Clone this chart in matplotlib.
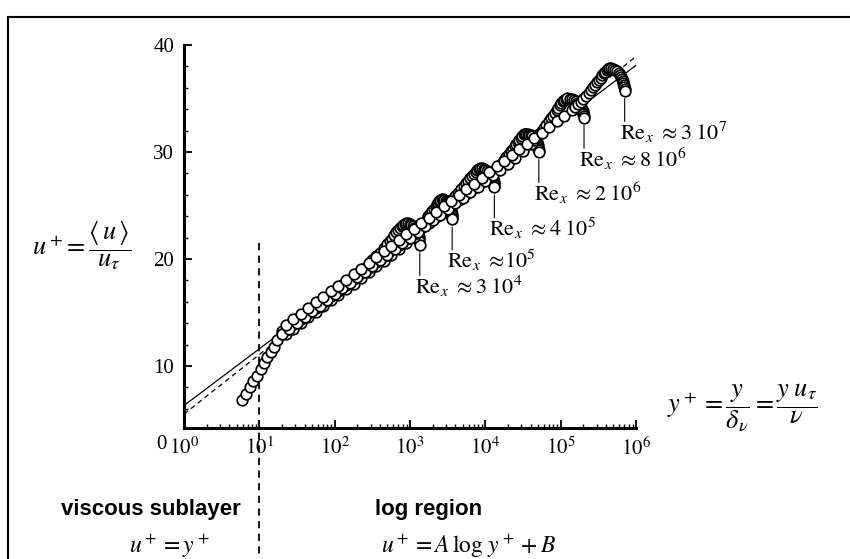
import numpy as np
import matplotlib.pyplot as plt
from matplotlib.patches import Rectangle
from matplotlib.ticker import LogLocator, MultipleLocator, NullFormatter
from matplotlib.transforms import offset_copy

plt.rcParams['font.family'] = ['Liberation Serif', 'DejaVu Serif']
plt.rcParams['mathtext.fontset'] = 'stix'

# near-wall points (shared by all profiles)
nearwall_yp = [5.9, 6.7, 7.6, 8.3, 9.4, 10.6, 11.7, 12.8, 14.5, 15.8, 17.4]
nearwall_up = [6.8, 7.4, 8.0, 8.6, 9.1, 9.7, 10.3, 10.8, 11.3, 11.8, 12.4]

# profiles, Re_x ~ 3e4 ... 3e7
re3e4_yp = [20, 25, 32, 40, 50, 63, 79, 100, 126, 158, 200, 251, 282, 316, 355, 398,
            447, 501, 537, 575, 617, 661, 700, 741, 776, 813, 851, 891, 933, 989,
            1042, 1096, 1146, 1191, 1225, 1253, 1279, 1300, 1318, 1334, 1349]
re3e4_up = [13.0, 13.6, 14.2, 14.8, 15.3, 15.9, 16.4, 16.9, 17.5, 18.0, 18.6, 19.2,
            19.45, 19.9, 20.25, 20.6, 21.0, 21.4, 21.65, 21.9, 22.2, 22.5, 22.72,
            22.9, 23.06, 23.2, 23.3, 23.35, 23.33, 23.25, 23.16, 23.04, 22.9, 22.74,
            22.57, 22.39, 22.22, 22.04, 21.86, 21.67, 21.3]

re1e5_yp = [22.4, 28.2, 35.5, 44.7, 56.2, 70.8, 89.1, 112, 141, 178, 224, 282, 355,
            447, 562, 708, 891, 1120, 1260, 1410, 1530, 1660, 1760, 1860, 1970, 2090,
            2190, 2290, 2370, 2455, 2540, 2630, 2740, 2850, 2970, 3090, 3200, 3300,
            3370, 3430, 3475, 3520, 3565, 3600, 3615, 3630]
re1e5_up = [12.95, 13.5, 14.0, 14.55, 15.05, 15.6, 16.15, 16.65, 17.2, 17.7, 18.25,
            18.8, 19.3, 19.85, 20.35, 20.95, 21.45, 22.05, 22.55, 23.0, 23.38, 23.7,
            23.98, 24.2, 24.45, 24.7, 24.9, 25.1, 25.27, 25.4, 25.52, 25.6, 25.57,
            25.5, 25.42, 25.3, 25.18, 25.03, 24.87, 24.71, 24.55, 24.38, 24.21,
            24.04, 23.87, 23.7]

re4e5_yp = [20, 25.1, 31.6, 39.8, 50.1, 63.1, 79.4, 100, 126, 158, 200, 251, 316,
            398, 501, 631, 794, 1000, 1260, 1580, 2000, 2510, 3160, 3550, 3980, 4370,
            4790, 5190, 5620, 5960, 6310, 6680, 7080, 7410, 7760, 8130, 8510, 9020,
            9500, 10000, 10600, 11090, 11560, 11890, 12190, 12450, 12680, 12850,
            13000, 13090, 13180]
re4e5_up = [13.3, 13.8, 14.35, 14.9, 15.4, 15.95, 16.45, 17.0, 17.55, 18.05, 18.6,
            19.1, 19.65, 20.2, 20.7, 21.25, 21.8, 22.3, 22.85, 23.35, 23.9, 24.5,
            25.2, 25.55, 25.9, 26.2, 26.5, 26.8, 27.1, 27.33, 27.55, 27.76, 27.95,
            28.13, 28.3, 28.42, 28.5, 28.48, 28.41, 28.34, 28.23, 28.1, 27.96, 27.81,
            27.65, 27.5, 27.35, 27.19, 27.02, 26.86, 26.7]

re2e6_yp = [22.4, 28.2, 35.5, 44.7, 56.2, 70.8, 89.1, 112, 141, 178, 224, 282, 355,
            447, 562, 708, 891, 1120, 1410, 1780, 2240, 2820, 3550, 4470, 5620, 7080,
            8910, 11200, 12600, 14100, 15300, 16600, 17800, 19050, 20400, 21900,
            23200, 24550, 25700, 26900, 28200, 29500, 30900, 32400, 33500, 34700,
            36500, 38300, 40300, 42200, 44000, 45600, 46800, 47800, 48800, 49500,
            50100, 50700, 51000, 51300]
re2e6_up = [13.35, 13.9, 14.4, 14.95, 15.45, 16.0, 16.55, 17.05, 17.6, 18.1, 18.65,
            19.2, 19.7, 20.25, 20.8, 21.3, 21.85, 22.35, 22.9, 23.4, 23.95, 24.5,
            25.0, 25.55, 26.1, 26.6, 27.15, 27.8, 28.12, 28.45, 28.72, 29.0, 29.25,
            29.5, 29.78, 30.05, 30.3, 30.55, 30.75, 30.95, 31.15, 31.35, 31.5, 31.65,
            31.7, 31.7, 31.68, 31.62, 31.55, 31.45, 31.33, 31.19, 31.05, 30.9, 30.76,
            30.61, 30.46, 30.31, 30.15, 30.0]

re8e6_yp = [20, 25.1, 31.6, 39.8, 50.1, 63.1, 79.4, 100, 126, 158, 200, 251, 316,
            398, 501, 631, 794, 1000, 1260, 1580, 2000, 2510, 3160, 3980, 5010, 6310,
            7940, 10000, 12600, 15800, 20000, 25100, 31600, 39800, 43700, 47900,
            51900, 56200, 60300, 64600, 69200, 74100, 78500, 83200, 88100, 93300,
            97700, 102300, 107200, 112200, 117500, 123000, 131200, 139600, 148600,
            158500, 166700, 175400, 181100, 186200, 190500, 195000, 198200, 200900,
            202800, 204200]
re8e6_up = [13.0, 13.5, 14.05, 14.6, 15.1, 15.65, 16.15, 16.7, 17.25, 17.75, 18.3,
            18.8, 19.35, 19.9, 20.4, 20.95, 21.45, 22.0, 22.55, 23.05, 23.6, 24.1,
            24.65, 25.2, 25.7, 26.25, 26.75, 27.3, 27.85, 28.35, 28.9, 29.45, 30.05,
            30.75, 31.08, 31.4, 31.7, 32.0, 32.28, 32.55, 32.85, 33.15, 33.4, 33.65,
            33.9, 34.15, 34.36, 34.55, 34.72, 34.85, 34.95, 35.0, 34.97, 34.91, 34.83,
            34.73, 34.6, 34.46, 34.3, 34.15, 34.0, 33.85, 33.68, 33.52, 33.36, 33.2]

re3e7_yp = [22.4, 28.2, 35.5, 44.7, 56.2, 70.8, 89.1, 112, 141, 178, 224, 282, 355,
            447, 562, 708, 891, 1120, 1410, 1780, 2240, 2820, 3550, 4470, 5620, 7080,
            8910, 11200, 14100, 17800, 22400, 28200, 35500, 44700, 56200, 70800,
            89100, 112000, 141000, 154900, 169800, 184100, 199500, 216300, 234400,
            251200, 269200, 285100, 302000, 319900, 338800, 354800, 371500, 389000,
            407400, 424600, 441600, 467700, 496600, 527200, 559800, 588800, 615200,
            633900, 650100, 665300, 679200, 690200, 698200, 704700, 707900]
re3e7_up = [13.8, 14.35, 14.85, 15.4, 15.95, 16.45, 17.0, 17.5, 18.05, 18.55, 19.1,
            19.65, 20.15, 20.7, 21.2, 21.75, 22.3, 22.8, 23.35, 23.85, 24.4, 24.95,
            25.45, 26.0, 26.55, 27.05, 27.6, 28.1, 28.65, 29.15, 29.7, 30.25, 30.75,
            31.3, 31.8, 32.35, 32.9, 33.4, 33.95, 34.2, 34.45, 34.7, 34.95, 35.2,
            35.5, 35.78, 36.05, 36.28, 36.5, 36.73, 36.95, 37.16, 37.35, 37.52, 37.65,
            37.78, 37.85, 37.82, 37.74, 37.65, 37.53, 37.38, 37.2, 37.03, 36.84,
            36.66, 36.47, 36.28, 36.09, 35.9, 35.7]

re_labels = [r'$\mathrm{Re}_x\ \approx 3\;10^4$', r'$\mathrm{Re}_x\ \approx\!10^5$',
             r'$\mathrm{Re}_x\ \approx 4\;10^5$', r'$\mathrm{Re}_x\ \approx 2\;10^6$',
             r'$\mathrm{Re}_x\ \approx 8\;10^6$', r'$\mathrm{Re}_x\ \approx 3\;10^7$']

# log-law fits  u+ = A log10(y+) + B
A_solid, B_solid = 5.3, 6.3
A_dash, B_dash = 5.57, 5.5
yp_sublayer_edge = 10

xticks = [1, 10, 100, 1e3, 1e4, 1e5, 1e6]
xtick_labels = [r'$10^0$', r'$10^1$', r'$10^2$', r'$10^3$', r'$10^4$', r'$10^5$', r'$10^6$']
yticks = [10, 20, 30, 40]

profiles = [(re3e4_yp, re3e4_up), (re1e5_yp, re1e5_up), (re4e5_yp, re4e5_up),
            (re2e6_yp, re2e6_up), (re8e6_yp, re8e6_up), (re3e7_yp, re3e7_up)]

fig = plt.figure(figsize=(8.5, 5.59), dpi=100)
ax = fig.add_axes([184/850, 1 - 428/559, 452/850, 383/559])
ax.set_xscale('log')
ax.set_xlim(1, 1e6)
ax.set_ylim(4.2, 40)

yl = np.logspace(0, 6, 200)
ax.plot(yl, A_solid*np.log10(yl) + B_solid, color='k', lw=0.9, zorder=2)
ax.plot(yl, A_dash*np.log10(yl) + B_dash, color='k', lw=0.9, dashes=(4, 3), zorder=2)

mk = dict(ls='none', marker='o', ms=7.6, mfc='white', mec='black', mew=1.25, zorder=3)
ax.plot(nearwall_yp, nearwall_up, **mk)
for yp, up in profiles:
    ax.plot(yp, up, **mk)

# vertical dashed line at edge of viscous sublayer, running below the axes
ax.plot([yp_sublayer_edge, yp_sublayer_edge], [0.483, -0.36], color='k', lw=1.3,
        dashes=(4, 3), transform=ax.get_xaxis_transform(), clip_on=False, zorder=1)

# labels of each profile end
txt_tr = offset_copy(ax.transData, fig=fig, x=-5, y=-41, units='dots')
for (yp, up), lab in zip(profiles, re_labels):
    ax.annotate('', xy=(yp[-1], up[-1]), xytext=(0, -22), textcoords='offset points',
                arrowprops=dict(arrowstyle='-', lw=0.8, color='k', shrinkA=0, shrinkB=5.5))
    ax.text(yp[-1], up[-1], lab, transform=txt_tr, ha='left', va='center', fontsize=16)

for s in ['top', 'right']:
    ax.spines[s].set_visible(False)
for s in ['left', 'bottom']:
    ax.spines[s].set_linewidth(2.2)

ax.set_xticks(xticks)
ax.set_xticklabels(xtick_labels)
ax.xaxis.set_minor_locator(LogLocator(base=10, subs=np.arange(2, 10)))
ax.xaxis.set_minor_formatter(NullFormatter())
ax.set_yticks(yticks)
ax.yaxis.set_minor_locator(MultipleLocator(2))
ax.tick_params(which='major', direction='in', length=6, width=1.3, labelsize=15, pad=7)
ax.tick_params(which='minor', direction='in', length=3, width=1.0)
ax.text(-0.051, -0.042, '0', transform=ax.transAxes, ha='center', va='center', fontsize=15)

fig.text(0.096, 0.562, r'$u^+\!=\dfrac{\langle\, u\,\rangle}{u_\tau}$', fontsize=19,
         ha='center', va='center')
fig.text(0.873, 0.270, r'$y^+=\dfrac{y}{\delta_\nu}=\dfrac{y\;u_\tau}{\nu}$', fontsize=19,
         ha='center', va='center')

fig.text(0.177, 0.089, 'viscous sublayer', family='Liberation Sans', weight='bold',
         fontsize=16, ha='center', va='center')
fig.text(0.199, 0.023, r'$u^+=y^+$', fontsize=17, ha='center', va='center')
fig.text(0.504, 0.089, 'log region', family='Liberation Sans', weight='bold',
         fontsize=16, ha='center', va='center')
fig.text(0.551, 0.023, r'$u^+=A\,\log\,y^+ + B$', fontsize=17, ha='center', va='center')

fig.patches.append(Rectangle((8/850, -0.05), 1.0, 1 - 17/559 + 0.05, transform=fig.transFigure,
                             fill=False, lw=1.5, ec='black'))

fig.savefig('out.png', dpi=100)
